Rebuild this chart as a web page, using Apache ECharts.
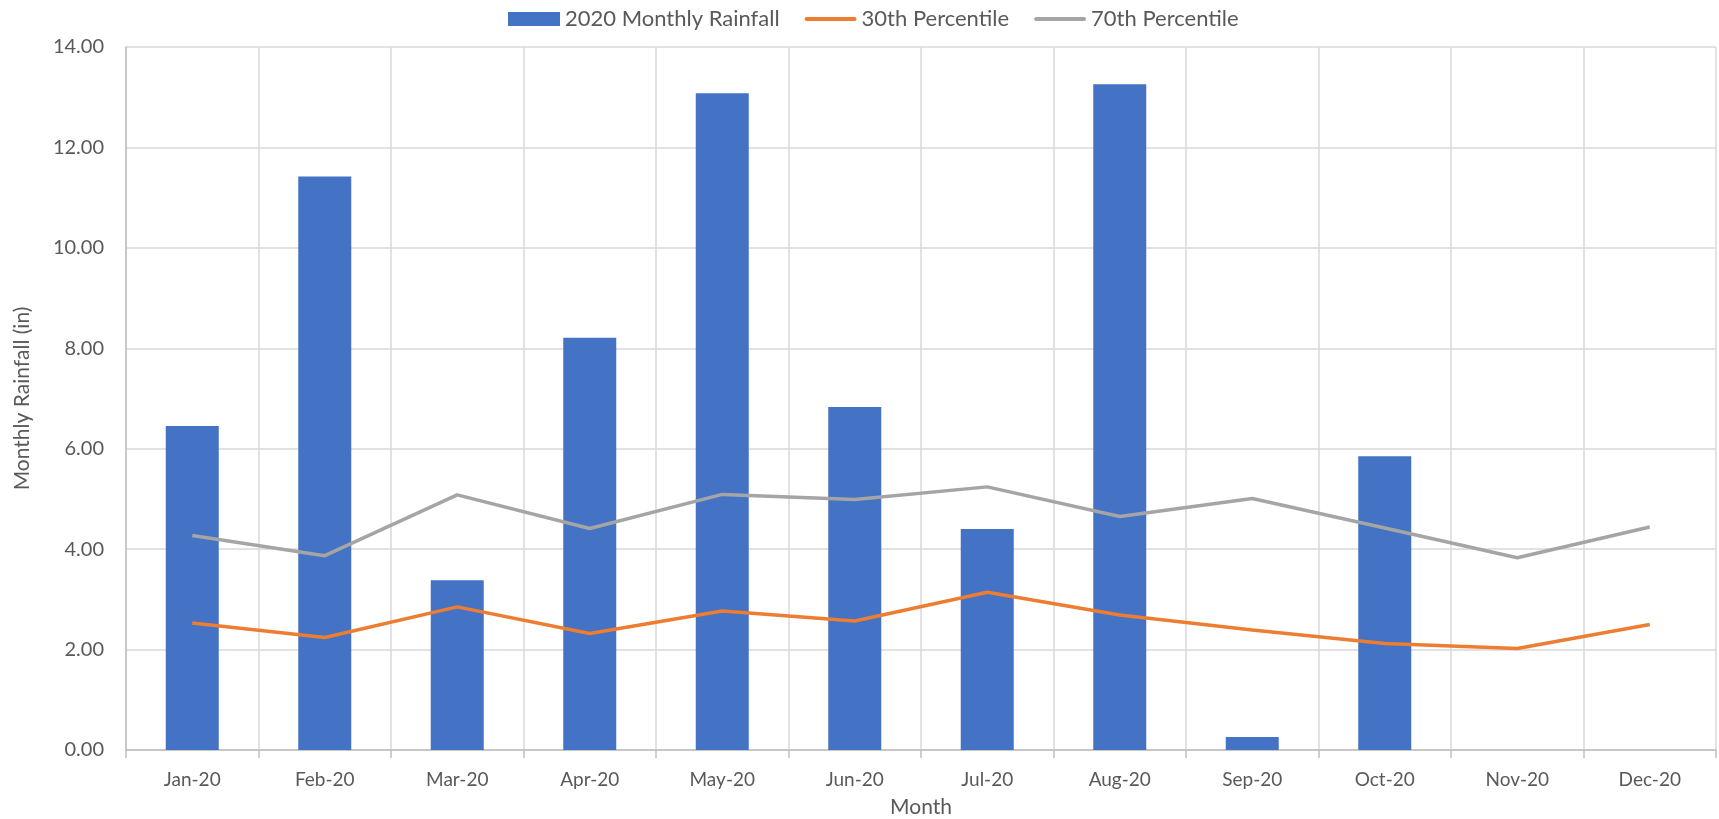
<!DOCTYPE html>
<html>
<head>
<meta charset="utf-8">
<script src="https://cdn.jsdelivr.net/npm/echarts@6/dist/echarts.min.js"></script>
<style>
  html, body { margin: 0; padding: 0; background: #fff; }
  #chart { width: 1719px; height: 819px; }
</style>
</head>
<body>
<div id="chart"></div>
<script>
  // categories + series
  const months = ['Jan-20', 'Feb-20', 'Mar-20', 'Apr-20', 'May-20', 'Jun-20',
                  'Jul-20', 'Aug-20', 'Sep-20', 'Oct-20', 'Nov-20', 'Dec-20'];
  const rainfall2020 = [6.45, 11.42, 3.38, 8.21, 13.08, 6.83, 4.40, 13.26, 0.26, 5.85, 0, 0];
  const p30 = [2.53, 2.24, 2.85, 2.32, 2.77, 2.57, 3.14, 2.69, 2.39, 2.12, 2.02, 2.50];
  const p70 = [4.27, 3.87, 5.08, 4.41, 5.09, 4.99, 5.24, 4.65, 5.01, 4.42, 3.83, 4.44];

  const fontFam = 'Lato, "Open Sans", sans-serif';
  const txt = '#595959';
  // flat bar used as legend icon for the two lines
  const lineIcon = 'path://M2,0 L50,0 A2,2 0 0 1 50,4 L2,4 A2,2 0 0 1 2,0 Z';

  let myChart = echarts.init(document.getElementById('chart'));
  myChart.setOption({
    animation: false,
    color: ['#4472C4', '#ED7D31', '#A5A5A5'],
    textStyle: { fontFamily: fontFam },
    legend: {
      top: 3,
      left: 503,
      itemGap: 25,
      itemWidth: 52,
      itemHeight: 14,
      selectedMode: false,
      textStyle: { fontSize: 22, color: txt, fontFamily: fontFam },
      data: [
        { name: '2020 Monthly Rainfall', icon: 'rect' },
        { name: '30th Percentile', icon: lineIcon, itemStyle: { color: '#ED7D31' } },
        { name: '70th Percentile', icon: lineIcon, itemStyle: { color: '#A5A5A5' } }
      ]
    },
    grid: {
      left: 126,
      right: 3,
      top: 47,
      bottom: 69,
      outerBoundsMode: 'none'
    },
    xAxis: {
      type: 'category',
      data: months,
      name: 'Month',
      nameLocation: 'middle',
      nameGap: 47,
      nameTextStyle: { fontSize: 21, color: txt, fontFamily: fontFam },
      axisLine: { lineStyle: { color: '#BFBFBF', width: 1.5 } },
      axisTick: { show: true, alignWithLabel: false, length: 8, lineStyle: { color: '#BFBFBF', width: 1.5 } },
      splitLine: { show: true, lineStyle: { color: '#D9D9D9', width: 1.5 } },
      axisLabel: { fontSize: 19, color: txt, margin: 20, interval: 0 }
    },
    yAxis: {
      type: 'value',
      min: 0,
      max: 14,
      interval: 2,
      name: 'Monthly Rainfall (in)',
      nameLocation: 'middle',
      nameGap: 93,
      nameTextStyle: { fontSize: 21, color: txt, fontFamily: fontFam },
      axisLine: { show: true, lineStyle: { color: '#BFBFBF', width: 1.5 } },
      axisTick: { show: false },
      splitLine: { lineStyle: { color: '#D9D9D9', width: 1.5 } },
      axisLabel: {
        fontSize: 20, color: txt, margin: 22,
        formatter: function (v) { return v.toFixed(2); }
      }
    },
    series: [
      {
        name: '2020 Monthly Rainfall',
        type: 'bar',
        data: rainfall2020,
        barWidth: 53,
        itemStyle: { color: '#4472C4' }
      },
      {
        name: '30th Percentile',
        type: 'line',
        data: p30,
        symbol: 'none',
        itemStyle: { color: '#ED7D31' },
        lineStyle: { width: 3.5, color: '#ED7D31' }
      },
      {
        name: '70th Percentile',
        type: 'line',
        data: p70,
        symbol: 'none',
        itemStyle: { color: '#A5A5A5' },
        lineStyle: { width: 3.5, color: '#A5A5A5' }
      }
    ]
  });

  window.addEventListener('resize', function () {
    myChart.resize();
  });
</script>
</body>
</html>
